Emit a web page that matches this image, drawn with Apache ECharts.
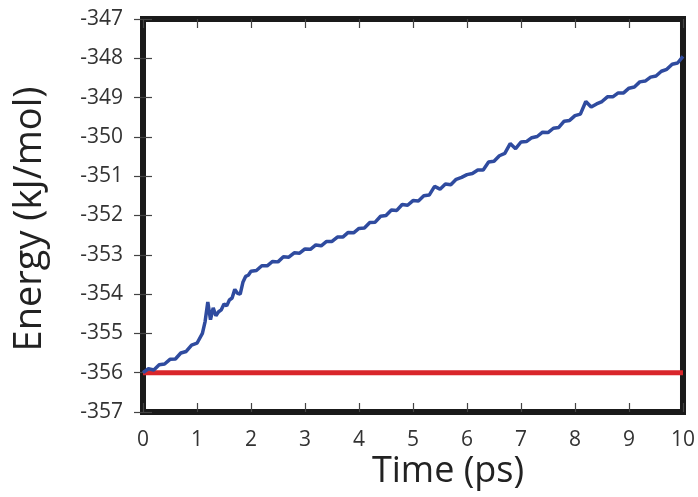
<!DOCTYPE html>
<html>
<head>
<meta charset="utf-8">
<script src="https://cdn.jsdelivr.net/npm/echarts@6/dist/echarts.min.js"></script>
<style>html,body{margin:0;padding:0;background:#fff;}#c{width:698px;height:497px;}</style>
</head>
<body>
<div id="c"></div>
<script>
var xTicks = [0,1,2,3,4,5,6,7,8,9,10];
var yTicks = [-357,-356,-355,-354,-353,-352,-351,-350,-349,-348,-347];
var time = [0.0,0.1,0.2,0.3,0.4,0.5,0.6,0.7,0.8,0.9,1.0,1.1,1.15,1.2,1.25,1.3,1.35,1.4,1.45,1.5,1.55,1.6,1.65,1.7,1.75,1.8,1.85,1.9,1.95,2.0,
  2.1,2.2,2.3,2.4,2.5,2.6,2.7,2.8,2.9,3.0,3.1,3.2,3.3,3.4,3.5,3.6,3.7,3.8,3.9,4.0,
  4.1,4.2,4.3,4.4,4.5,4.6,4.7,4.8,4.9,5.0,5.1,5.2,5.3,5.4,5.5,5.6,5.7,5.8,5.9,6.0,
  6.1,6.2,6.3,6.4,6.5,6.6,6.7,6.8,6.9,7.0,7.1,7.2,7.3,7.4,7.5,7.6,7.7,7.8,7.9,8.0,
  8.1,8.2,8.3,8.4,8.5,8.6,8.7,8.8,8.9,9.0,9.1,9.2,9.3,9.4,9.5,9.6,9.7,9.8,9.9,10.0];
var energy = [-356.00,-355.90,-355.93,-355.80,-355.78,-355.66,-355.65,-355.50,-355.46,-355.30,-355.25,-355.00,-354.70,-354.20,-354.65,-354.35,-354.55,-354.45,-354.40,-354.25,-354.30,-354.15,-354.10,-353.88,-353.98,-354.00,-353.70,-353.55,-353.52,-353.42,
  -353.40,-353.28,-353.28,-353.17,-353.18,-353.05,-353.06,-352.95,-352.96,-352.85,-352.86,-352.75,-352.77,-352.66,-352.66,-352.55,-352.55,-352.43,-352.44,-352.33,
  -352.32,-352.18,-352.17,-352.02,-352.00,-351.86,-351.87,-351.72,-351.74,-351.62,-351.63,-351.50,-351.48,-351.26,-351.33,-351.20,-351.22,-351.08,-351.03,-350.96,
  -350.93,-350.84,-350.84,-350.64,-350.62,-350.48,-350.42,-350.17,-350.30,-350.13,-350.12,-350.02,-349.99,-349.88,-349.89,-349.78,-349.76,-349.60,-349.58,-349.46,
  -349.42,-349.10,-349.24,-349.16,-349.10,-348.98,-348.98,-348.88,-348.88,-348.76,-348.73,-348.60,-348.58,-348.48,-348.45,-348.33,-348.28,-348.15,-348.12,-347.95];
var refTime = [0, 10];
var refEnergy = [-356, -356];

var chart = echarts.init(document.getElementById('c'), null, {renderer: 'canvas'});
function pairs(xs, ys){ return xs.map(function(x,i){ return [x, ys[i]]; }); }
var tickStyle = {show: true, inside: true, length: 9, lineStyle: {color: '#444', width: 1.2}};
var labelFont = {fontFamily: 'Open Sans', fontSize: 21, color: '#333'};
chart.setOption({
  animation: false,
  backgroundColor: '#ffffff',
  grid: {left: 143, right: 10, top: 19, bottom: 85, show: true, borderColor: '#1a1a1a', borderWidth: 6, backgroundColor: 'transparent'},
  xAxis: [
    {type: 'value', min: xTicks[0], max: xTicks[xTicks.length-1], interval: 1, position: 'bottom',
     axisLine: {show: false}, axisTick: tickStyle, splitLine: {show: false},
     axisLabel: Object.assign({margin: 18}, labelFont)},
    {type: 'value', min: xTicks[0], max: xTicks[xTicks.length-1], interval: 1, position: 'top',
     axisLine: {show: false}, axisTick: tickStyle, splitLine: {show: false}, axisLabel: {show: false}}
  ],
  yAxis: [
    {type: 'value', min: yTicks[0], max: yTicks[yTicks.length-1], interval: 1, position: 'left',
     axisLine: {show: false}, axisTick: tickStyle, splitLine: {show: false},
     axisLabel: Object.assign({margin: 20}, labelFont)},
    {type: 'value', min: yTicks[0], max: yTicks[yTicks.length-1], interval: 1, position: 'right',
     axisLine: {show: false}, axisTick: tickStyle, splitLine: {show: false}, axisLabel: {show: false}}
  ],
  graphic: [
    {type: 'text', x: 30, y: 219, rotation: Math.PI/2,
     style: {text: 'Energy (kJ/mol)', fontFamily: 'Open Sans', fontSize: 38, fill: '#222', align: 'center', verticalAlign: 'middle'}},
    {type: 'text', x: 448, y: 472,
     style: {text: 'Time (ps)', fontFamily: 'Open Sans', fontSize: 36, fill: '#222', align: 'center', verticalAlign: 'middle'}}
  ],
  series: [
    {type: 'line', data: pairs(refTime, refEnergy), showSymbol: false, lineStyle: {color: '#d9262b', width: 5}, z: 2},
    {type: 'line', data: pairs(time, energy), showSymbol: false, lineStyle: {color: '#2f4b9f', width: 3.5}, z: 3}
  ]
});
</script>
</body>
</html>
